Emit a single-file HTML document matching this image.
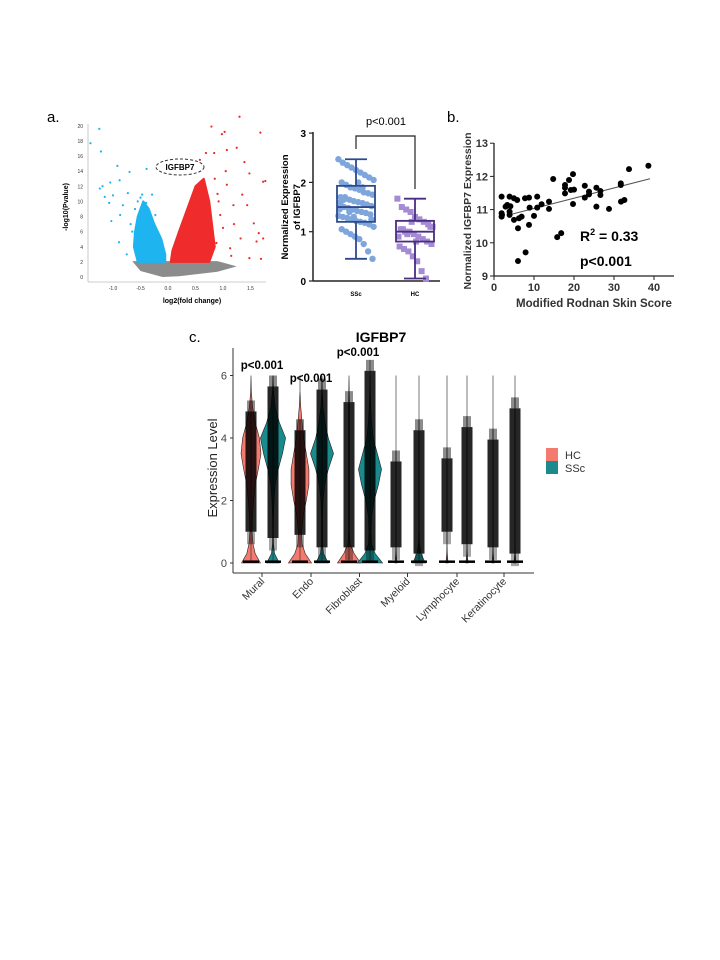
<!DOCTYPE html>
<html><head><meta charset="utf-8"><style>
html,body{margin:0;padding:0;background:#fff;}
svg{display:block;font-family:"Liberation Sans",Arial,sans-serif;}
</style></head><body>
<svg id="fig" width="720" height="960" viewBox="0 0 720 960">
<rect width="720" height="960" fill="#fff"/>
<text x="47" y="122" font-size="15">a.</text>
<text x="447" y="122" font-size="15">b.</text>
<text x="189" y="342" font-size="15">c.</text>
<g id="volcano"></g>
<g id="boxplot"></g>
<g id="scatter"></g>
<g id="violin"></g>
</svg>
<script>
const NS="http://www.w3.org/2000/svg";
function mk(p,t,a,txt){const e=document.createElementNS(NS,t);for(const k in a)e.setAttribute(k,a[k]);if(txt!==undefined)e.textContent=txt;p.appendChild(e);return e;}

// ---------- Volcano data ----------
const volcBlueX=[-1.41,-1.25,-1.22,-1.24,-1.19,-1.15,-1.07,-1.05,-1.03,-1.0,-0.92,-0.89,-0.88,-0.87,-0.82,-0.73,-0.7,-0.75,-0.39,-0.47,-0.29,-0.23,-0.6,-0.65,-0.55,-0.5,-0.4,-0.68];
const volcBlueY=[17.7,19.6,16.6,11.7,12,10.6,9.8,12.5,7.4,10.8,14.7,4.6,12.8,8.2,9.5,11.1,13.9,3,14.3,10.9,10.9,8.2,9,6,10,10.5,9.8,7];
const volcRedX=[1.3,0.79,0.98,1.03,1.68,1.25,1.07,0.84,0.69,0.58,1.39,1.48,1.73,1.77,1.35,1.56,1.65,1.73,1.61,1.48,1.69,1.07,1.19,0.95,1.32,1.13,1.44,0.9,1.0,0.85,1.2,0.92,1.05,0.88,1.15];
const volcRedY=[21.2,19.9,18.9,19.2,19.1,17.1,16.8,16.4,16.4,15.5,15.2,13.7,12.6,12.7,10.9,7.1,5.8,5.1,4.7,2.5,2.4,12.2,9.5,8.2,5.1,3.8,9.5,11,6.5,13,7,10,14,4.5,2.8];
const volcBlueCloud=[[-0.05,2],[-0.55,2],[-0.62,4],[-0.6,6],[-0.55,8],[-0.45,10],[-0.35,9],[-0.25,7],[-0.12,5],[-0.05,3]];
const volcRedCloud=[[0.05,2],[0.75,2],[0.85,4],[0.8,7],[0.75,10],[0.65,13],[0.5,12],[0.35,9],[0.2,6],[0.08,3.5]];
const volcYTicks=[0,2,4,6,8,10,12,14,16,18,20];
const volcXTicks=[-1.0,-0.5,0.0,0.5,1.0,1.5];
(function(){
 const g=document.getElementById('volcano');
 const X=v=>168+v*55, Y=v=>277-v*7.56;
 mk(g,'line',{x1:88,y1:124,x2:88,y2:282,stroke:'#bbb','stroke-width':0.8});
 mk(g,'line',{x1:88,y1:282,x2:266,y2:282,stroke:'#bbb','stroke-width':0.8});
 volcYTicks.forEach(t=>{const e=mk(g,'text',{x:83,y:Y(t)+2,'font-size':5,'text-anchor':'end',fill:'#333'},t);
  });
 volcXTicks.forEach(t=>{const e=mk(g,'text',{x:X(t),y:290,'font-size':5,'text-anchor':'middle',fill:'#333'},t.toFixed(1));
  });
 let e=mk(g,'text',{x:0,y:0,'font-size':7,'font-weight':'bold','text-anchor':'middle',transform:'translate(68,207) rotate(-90)'},'-log10(Pvalue)');
 
 e=mk(g,'text',{x:192,y:303,'font-size':7,'font-weight':'bold','text-anchor':'middle'},'log2(fold change)');
 
 e=mk(g,'path',{d:`M${X(-0.65)} ${Y(2.1)} L${X(0.9)} ${Y(2.1)} L${X(1.25)} ${Y(1.4)} L${X(0.9)} ${Y(0.7)} L${X(0.2)} ${Y(0.1)} L${X(-0.1)} ${Y(0)} L${X(-0.5)} ${Y(0.8)} Z`,fill:'#666',opacity:0.75});
 
 const poly=(arr,col,name)=>{const p=mk(g,'path',{d:'M'+arr.map(q=>X(q[0])+' '+Y(q[1])).join(' L')+' Z',fill:col,'stroke':col,'stroke-width':2,'stroke-linejoin':'round'});
  };
 poly(volcBlueCloud,'#1eb4f0','down-regulated-cloud');
 poly(volcRedCloud,'#ef2b2b','up-regulated-cloud');
 volcBlueX.forEach((v,i)=>{const c=mk(g,'circle',{cx:X(v),cy:Y(volcBlueY[i]),r:1.1,fill:'#1eb4f0'});
  });
 volcRedX.forEach((v,i)=>{const c=mk(g,'circle',{cx:X(v),cy:Y(volcRedY[i]),r:1.1,fill:'#ef2b2b'});
  });
 e=mk(g,'ellipse',{cx:180,cy:167,rx:24,ry:8,fill:'#fff','fill-opacity':0.6,stroke:'#333','stroke-dasharray':'3,2','stroke-width':1});
 
 e=mk(g,'text',{x:180,y:170,'font-size':8,'font-weight':'bold','text-anchor':'middle'},'IGFBP7');
 
})();

// ---------- Box plot data ----------
const boxGroups=['SSc','HC'];
const boxStats=[[0.45,1.2,1.5,1.93,2.47],[0.05,0.8,1.0,1.22,1.67]];
const boxSScVals=[2.47,2.4,2.35,2.3,2.25,2.2,2.15,2.1,2.05,2.0,1.95,1.9,1.88,1.85,1.8,1.78,1.75,1.7,1.68,1.65,1.62,1.6,1.58,1.55,1.52,1.5,1.5,1.48,1.45,1.42,1.4,1.38,1.35,1.32,1.3,1.28,1.25,1.22,1.2,1.18,1.15,1.1,1.05,1.0,0.95,0.9,0.85,0.75,0.6,0.45,1.6,1.7,1.4,1.3,2.0,1.9,1.55,1.25,1.45,1.65];
const boxHCVals=[1.67,1.5,1.45,1.4,1.3,1.25,1.2,1.15,1.1,1.05,1.0,1.0,0.95,0.9,0.85,0.8,0.75,0.7,0.65,0.6,0.5,0.4,0.2,0.05,1.1,0.9,1.05,0.95,1.2,0.8];
const boxYTicks=[0,1,2,3];
(function(){
 const g=document.getElementById('boxplot');
 const Y=v=>281-v*49.3, XC=[356,415], cols=[['#7ea6dc','#2e4a8c'],['#a58bd3','#4a2d80']];
 mk(g,'line',{x1:313,y1:132,x2:313,y2:281,stroke:'#222','stroke-width':1.5});
 mk(g,'line',{x1:313,y1:281,x2:440,y2:281,stroke:'#222','stroke-width':1.5});
 boxYTicks.forEach(t=>{mk(g,'line',{x1:309,y1:Y(t),x2:313,y2:Y(t),stroke:'#222','stroke-width':1.2});
  const e=mk(g,'text',{x:306,y:Y(t)+4,'font-size':10,'font-weight':'bold','text-anchor':'end'},t);
  });
 let e=mk(g,'text',{x:0,y:0,'font-size':9.5,'font-weight':'bold','text-anchor':'middle',transform:'translate(288,207) rotate(-90)'},'Normalized Expression');
 
 e=mk(g,'text',{x:0,y:0,'font-size':9.5,'font-weight':'bold','text-anchor':'middle',transform:'translate(300,207) rotate(-90)'},'of IGFBP7');
 
 boxGroups.forEach((name,i)=>{const s=boxStats[i],x=XC[i],c=cols[i][1];
  const t=mk(g,'text',{x:x,y:296,'font-size':6,'font-weight':'bold','text-anchor':'middle'},name);
  
  const vals=i===0?boxSScVals:boxHCVals;
  vals.forEach((v,j)=>{const dx=((j*37)%33-16)*1.1;
   const p=i===0?mk(g,'circle',{cx:x+dx,cy:Y(v),r:3.2,fill:cols[i][0]}):mk(g,'rect',{x:x+dx-3,y:Y(v)-3,width:6,height:6,fill:cols[i][0]});
   });
  const b=mk(g,'rect',{x:x-19,y:Y(s[3]),width:38,height:Y(s[1])-Y(s[3]),fill:'none',stroke:c,'stroke-width':1.8});
  
  mk(g,'line',{x1:x-19,y1:Y(s[2]),x2:x+19,y2:Y(s[2]),stroke:c,'stroke-width':1.8});
  mk(g,'line',{x1:x,y1:Y(s[0]),x2:x,y2:Y(s[1]),stroke:c,'stroke-width':1.8});
  mk(g,'line',{x1:x,y1:Y(s[3]),x2:x,y2:Y(s[4]),stroke:c,'stroke-width':1.8});
  mk(g,'line',{x1:x-11,y1:Y(s[0]),x2:x+11,y2:Y(s[0]),stroke:c,'stroke-width':1.8});
  mk(g,'line',{x1:x-11,y1:Y(s[4]),x2:x+11,y2:Y(s[4]),stroke:c,'stroke-width':1.8});
 });
 e=mk(g,'path',{d:'M356 149 L356 136 L415 136 L415 189',fill:'none',stroke:'#222','stroke-width':1.2});
 
 e=mk(g,'text',{x:386,y:125,'font-size':11,'text-anchor':'middle'},'p<0.001');
 
})();

// ---------- Scatter data ----------
const scatX=[1.9,1.9,1.9,2,2.9,3.3,3.9,3.9,3.9,4.1,5,5,5.8,6,6,6.25,6.9,7.75,7.9,8.75,8.75,8.9,10,10.8,10.8,11.9,13.75,13.75,14.8,15.8,16.8,17.75,17.75,17.75,18.75,19.2,19.75,19.75,20,22.7,22.7,23.75,23.75,25.6,25.6,26.6,26.6,28.75,31.7,31.7,31.75,32.6,33.75,38.6];
const scatY=[11.39,10.89,10.79,10.84,11.09,11.14,11.39,10.94,10.84,11.1,11.34,10.69,11.29,10.44,9.45,10.74,10.79,11.34,9.71,11.36,10.54,11.06,10.81,11.39,11.06,11.16,11.24,11.02,11.92,10.17,10.29,11.74,11.49,11.66,11.89,11.59,12.07,11.17,11.6,11.72,11.36,11.54,11.46,11.66,11.09,11.56,11.44,11.02,11.79,11.74,11.24,11.29,12.22,12.32];
const scatFit=[[4,10.85],[39,11.93]];
const scatXTicks=[0,10,20,30,40];
const scatYTicks=[9,10,11,12,13];
(function(){
 const g=document.getElementById('scatter');
 const X=v=>494+v*4.0, Y=v=>276-(v-9)*33.2;
 mk(g,'line',{x1:494,y1:143,x2:494,y2:276,stroke:'#222','stroke-width':1.3});
 mk(g,'line',{x1:494,y1:276,x2:674,y2:276,stroke:'#222','stroke-width':1.3});
 scatYTicks.forEach(t=>{mk(g,'line',{x1:490,y1:Y(t),x2:494,y2:Y(t),stroke:'#222'});
  const e=mk(g,'text',{x:488,y:Y(t)+4,'font-size':11,'font-weight':'bold','text-anchor':'end',fill:'#333'},t);
  });
 scatXTicks.forEach(t=>{mk(g,'line',{x1:X(t),y1:276,x2:X(t),y2:280,stroke:'#222'});
  const e=mk(g,'text',{x:X(t),y:291,'font-size':11,'font-weight':'bold','text-anchor':'middle',fill:'#333'},t);
  });
 let e=mk(g,'text',{x:594,y:307,'font-size':11.5,'font-weight':'bold','text-anchor':'middle',fill:'#333'},'Modified Rodnan Skin Score');
 
 e=mk(g,'text',{x:0,y:0,'font-size':10.5,'font-weight':'bold','text-anchor':'middle',fill:'#333',transform:'translate(471,211) rotate(-90)'},'Normalized  IGFBP7 Expression');
 
 e=mk(g,'line',{x1:X(scatFit[0][0]),y1:Y(scatFit[0][1]),x2:X(scatFit[1][0]),y2:Y(scatFit[1][1]),stroke:'#555','stroke-width':1});
 
 scatX.forEach((v,i)=>{const c=mk(g,'circle',{cx:X(v),cy:Y(scatY[i]),r:3,fill:'#000'});
  });
 e=mk(g,'text',{x:580,y:241,'font-size':14,'font-weight':'bold'});
 
 e.innerHTML='R<tspan font-size="9" dy="-6">2</tspan><tspan dy="6"> = 0.33</tspan>';
 e=mk(g,'text',{x:580,y:266,'font-size':14,'font-weight':'bold'},'p<0.001');
 
})();

// ---------- Violin data ----------
const vioCats=['Mural','Endo','Fibroblast','Myeloid','Lymphocyte','Keratinocyte'];
const vioLevels=[0,0.3,0.6,1,1.5,2,2.5,3,3.5,4,4.5,5,5.5,6];
const vioHCDens=[[9,4,2,1,1.5,2.5,4,7,9.5,8,4,1.5,0.3,0],[11,5,2,1.5,3,6,8.5,8.5,6,3.5,2,0.7,0,0],[11,5,1,0.5,0.5,0.5,0.5,0.5,0.5,0.5,0.5,0.5,0.2,0],[1,0.3,0,0,0,0,0,0,0,0,0,0,0,0],[1,0.3,0,0,0,0,0,0,0,0,0,0,0,0],[1,0.3,0,0,0,0,0,0,0,0,0,0,0,0]];
const vioSScDens=[[6,1.5,0.5,0.3,0.5,1,2,5,9,12,6,2,0.5,0],[6,1.5,0.5,0.5,0.5,1,2.5,6,11,6,3,1,0.3,0],[12,5,1.5,1,1.5,4,8,11,7,3,1.5,0.7,0.3,0],[6,2,0.5,0.2,0,0,0,0,0,0,0,0,0,0],[1,0.3,0,0,0,0,0,0,0,0,0,0,0,0],[1,0.3,0,0,0,0,0,0,0,0,0,0,0,0]];
const vioHCRange=[[1.0,5.2],[0.9,4.6],[0.5,5.5],[0.5,3.6],[1.0,3.7],[0.5,4.3]];
const vioSScRange=[[0.8,6.0],[0.5,5.9],[0.4,6.5],[0.3,4.6],[0.6,4.7],[0.3,5.3]];
const vioPLabels=['p<0.001','p<0.001','p<0.001'];
const vioYTicks=[0,2,4,6];
(function(){
 const g=document.getElementById('violin');
 const Y=v=>563-v*31.25;
 const HCX=[251,300,349,396,447,493], SSCX=[273,322,370,419,467,515];
 let e=mk(g,'text',{x:381,y:342,'font-size':14,'font-weight':'bold','text-anchor':'middle'},'IGFBP7');
 
 mk(g,'line',{x1:233,y1:348,x2:233,y2:573,stroke:'#333','stroke-width':1});
 mk(g,'line',{x1:233,y1:573,x2:534,y2:573,stroke:'#333','stroke-width':1});
 vioYTicks.forEach(t=>{mk(g,'line',{x1:230,y1:Y(t),x2:233,y2:Y(t),stroke:'#333'});
  const e=mk(g,'text',{x:227,y:Y(t)+4,'font-size':11,'text-anchor':'end',fill:'#444'},t);
  });
 e=mk(g,'text',{x:0,y:0,'font-size':13,'text-anchor':'middle',fill:'#222',transform:'translate(217,468) rotate(-90)'},'Expression Level');
 
 const drawGroup=(x,dens,range,col,name)=>{
  let right=vioLevels.map((l,k)=>(x+dens[k]*1.05)+' '+Y(l));
  let left=vioLevels.map((l,k)=>(x-dens[k]*1.05)+' '+Y(l)).reverse();
  const v=mk(g,'path',{d:'M'+right.join(' L')+' L'+left.join(' L')+' Z',fill:col,stroke:'#222','stroke-width':0.6});
  
  mk(g,'line',{x1:x,y1:Y(range[1]),x2:x,y2:Y(0),stroke:'#222','stroke-width':0.6});
  const j=mk(g,'rect',{x:x-5.5,y:Y(range[1]-0.35),width:11,height:Y(range[0])-Y(range[1]-0.35),fill:'#000',opacity:0.85});
  
  mk(g,'rect',{x:x-4,y:Y(range[1]),width:8,height:Y(range[1]-0.35)-Y(range[1]),fill:'#000',opacity:0.45});
  mk(g,'rect',{x:x-4,y:Y(range[0]),width:8,height:Y(range[0]-0.4)-Y(range[0]),fill:'#000',opacity:0.35});
  mk(g,'rect',{x:x-8,y:Y(0.05)-1,width:16,height:2.5,fill:'#000'});
 };
 vioCats.forEach((c,i)=>{
  drawGroup(HCX[i],vioHCDens[i],vioHCRange[i],'#f47a6f',c.toLowerCase()+'-hc');
  drawGroup(SSCX[i],vioSScDens[i],vioSScRange[i],'#1a8a8c',c.toLowerCase()+'-ssc');
  const cx=(HCX[i]+SSCX[i])/2;
  mk(g,'line',{x1:cx,y1:573,x2:cx,y2:577,stroke:'#333'});
  const t=mk(g,'text',{x:0,y:0,'font-size':10.5,'text-anchor':'end',fill:'#333',transform:`translate(${cx+3},${582}) rotate(-45)`},c);
  
 });
 const pPos=[[262,369],[311,382],[358,356]];
 vioPLabels.forEach((p,i)=>{const t=mk(g,'text',{x:pPos[i][0],y:pPos[i][1],'font-size':11.5,'font-weight':'bold','text-anchor':'middle'},p);
  });
 e=mk(g,'rect',{x:546,y:448,width:12,height:13,fill:'#f47a6f'});
 
 e=mk(g,'text',{x:565,y:459,'font-size':11,fill:'#333'},'HC');
 
 e=mk(g,'rect',{x:546,y:461,width:12,height:13,fill:'#1a8a8c'});
 
 e=mk(g,'text',{x:565,y:472,'font-size':11,fill:'#333'},'SSc');
 
})();
</script>
</body></html>
